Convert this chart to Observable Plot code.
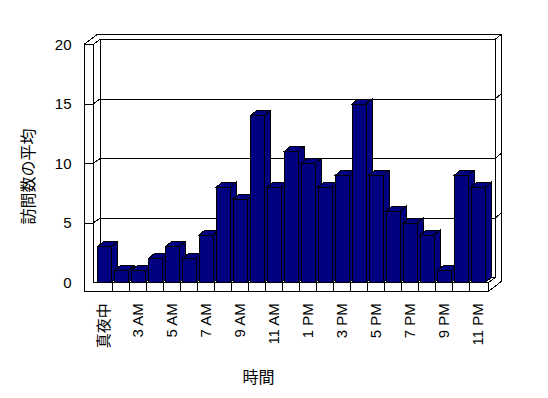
<!DOCTYPE html>
<html><head><meta charset="utf-8">
<script src="https://cdn.jsdelivr.net/npm/d3@7"></script>
<script src="https://cdn.jsdelivr.net/npm/@observablehq/plot@0.6"></script>
<style>html,body{margin:0;padding:0;background:#fff}</style>
</head><body><div id="chart"></div>
<script>
// ---- data ----
const hours = ["真夜中","1 AM","3 AM","4 AM","5 AM","6 AM","7 AM","8 AM","9 AM","10 AM","11 AM","12 PM","1 PM","2 PM","3 PM","4 PM","5 PM","6 PM","7 PM","8 PM","9 PM","10 PM","11 PM"];
const visits = [3,1,1,2,3,2,4,8,7,14,8,11,10,8,9,15,9,6,5,4,1,9,8];
const xTickLabels = ["真夜中","3 AM","5 AM","7 AM","9 AM","11 AM","1 PM","3 PM","5 PM","7 PM","9 PM","11 PM"];
const yTicks = [0,5,10,15,20];
const gridValues = [5,10,15,20];
const yTitle = "訪問数の平均";
const xTitle = "時間";

const data = hours.map((h, i) => ({hour: h, value: visits[i]}));

// 3D look (pixels)
const BAR = "#000080";
const BOX = [7, -5];      // front plane -> inner back wall
const OUT = [13, -10];    // front plane -> outer back of wall slab
const WALL = 9;           // left wall / floor thickness
const BD = [6, -5];       // bar depth
const INL = 2, INR = 0.9; // bar insets inside band

const pts = a => "M" + a.map(p => p.join(",")).join("L");

function frame(index, scales, values, dim) {
  const {x, y} = scales;
  const X0 = dim.marginLeft, X1 = dim.width - dim.marginRight;
  const Y0 = y(0), YT = y(yTicks[yTicks.length - 1]);
  const g = d3.create("svg:g").attr("fill", "none").attr("stroke", "black").attr("stroke-width", 1).attr("shape-rendering", "crispEdges");
  g.append("path").attr("fill", "white").attr("d", pts([[X0+BOX[0], YT+BOX[1]], [X1+BOX[0], YT+BOX[1]], [X1+BOX[0], Y0+BOX[1]], [X0+BOX[0], Y0+BOX[1]]]) + "Z");
  for (const v of gridValues) {
    const yy = y(v);
    g.append("path").attr("d", pts([[X0-WALL, yy], [X0, yy], [X0+BOX[0], yy+BOX[1]], [X1+BOX[0], yy+BOX[1]], [X1+OUT[0], yy+OUT[1]]]));
  }
  g.append("path").attr("d", pts([[X0-WALL, Y0+WALL], [X0-WALL, YT], [X0-WALL+OUT[0], YT+OUT[1]], [X1+OUT[0], YT+OUT[1]], [X1+OUT[0], Y0+WALL+OUT[1]], [X1, Y0+WALL]]) + "Z");
  g.append("path").attr("d", pts([[X0, YT], [X0, Y0], [X1, Y0], [X1, Y0+WALL]]));
  g.append("path").attr("d", pts([[X0, YT], [X0+BOX[0], YT+BOX[1]]]));
  g.append("path").attr("d", pts([[X1, Y0], [X1+BOX[0], Y0+BOX[1]]]));
  g.append("path").attr("d", pts([[X1+BOX[0], YT+BOX[1]], [X1+BOX[0], Y0+BOX[1]]]));
  for (const h of hours.slice(1)) {
    const xx = x(h);
    g.append("path").attr("d", pts([[xx, Y0], [xx, Y0+WALL]]));
  }
  return g.node();
}

function barTops(index, scales, values, dim) {
  const {x, y} = scales;
  const bw = x.bandwidth ? x.bandwidth() : (dim.width - dim.marginLeft - dim.marginRight) / hours.length;
  const Y0 = y(0);
  const g = d3.create("svg:g").attr("fill", BAR).attr("stroke", "black").attr("stroke-width", 1).attr("shape-rendering", "crispEdges");
  for (const d of data) {
    const xa = x(d.hour) + INL, xb = x(d.hour) + bw - INR, yv = y(d.value);
    g.append("path").attr("d", pts([[xa, yv], [xa+BD[0], yv+BD[1]], [xb+BD[0], yv+BD[1]], [xb, yv]]) + "Z");
    g.append("path").attr("d", pts([[xb, yv], [xb+BD[0], yv+BD[1]], [xb+BD[0], Y0+BD[1]], [xb, Y0]]) + "Z");
  }
  return g.node();
}

const chart = Plot.plot({
  width: 548,
  height: 398,
  marginLeft: 93,
  marginRight: 60,
  marginTop: 44.5,
  marginBottom: 115.3,
  style: {fontFamily: '"Liberation Sans", "Noto Sans CJK JP", sans-serif', fontSize: "15px", background: "#fff", color: "black"},
  x: {type: "band", domain: hours, paddingInner: 0, paddingOuter: 0},
  y: {domain: [0, 20]},
  marks: [
    frame,
    barTops,
    Plot.barY(data, {x: "hour", y: "value", fill: BAR, stroke: "black", strokeWidth: 1, insetLeft: INL, insetRight: INR, shapeRendering: "crispEdges"}),
    Plot.axisY({ticks: yTicks, tickSize: 0, tickPadding: 22, label: null, fontSize: 15}),
    Plot.axisX({ticks: xTickLabels, tickRotate: -90, tickSize: 0, tickPadding: 20, label: null, fontSize: 15}),
    Plot.text([yTitle], {text: d => d, frameAnchor: "left", rotate: -90, dx: -65, dy: 12.5, fontSize: 16, textAnchor: "middle", lineAnchor: "middle", fill: "black"}),
    Plot.text([xTitle], {text: d => d, frameAnchor: "bottom", dx: -32.5, dy: 94.3, fontSize: 16, textAnchor: "middle", lineAnchor: "middle", fill: "black"})
  ]
});
document.getElementById("chart").appendChild(chart);
</script>
</body></html>
